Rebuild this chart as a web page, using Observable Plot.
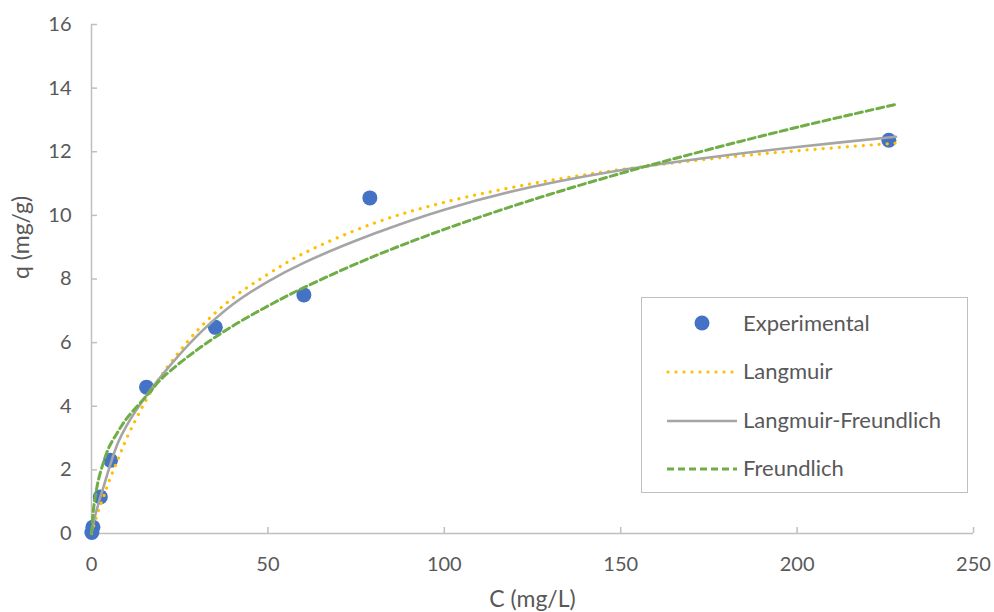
<!DOCTYPE html>
<html>
<head>
<meta charset="utf-8">
<script src="https://cdn.jsdelivr.net/npm/d3@7"></script>
<script src="https://cdn.jsdelivr.net/npm/@observablehq/plot@0.6"></script>
<style>
  html, body { margin: 0; padding: 0; background: #fff; }
  #wrap { position: relative; width: 994px; height: 612px; font-family: Lato, "Open Sans", sans-serif; }
  #legend { position: absolute; left: 641px; top: 297px; width: 325px; height: 194px; border: 1.5px solid #bfbfbf; background: #fff; }
  .item { position: absolute; left: 0; height: 30px; width: 320px; }
  .item svg { position: absolute; left: 20px; top: 0; }
  .item span { position: absolute; left: 101px; top: 0px; font-size: 22px; color: #595959; white-space: nowrap; }
</style>
</head>
<body>
<div id="wrap"></div>
<script>
// Experimental data
const expC = [0.1, 0.4, 2.5, 5.4, 15.6, 35.1, 60.2, 78.9, 226];
const expQ = [0.03, 0.2, 1.15, 2.3, 4.6, 6.48, 7.5, 10.55, 12.36];

// Model curves
const curveC = [0, 0.5, 1, 2, 3.5, 5, 7.5, 10, 15, 20, 30, 40, 50, 60, 80, 100, 125, 150, 175, 200, 228];
const langmuir = [0, 0.19, 0.38, 0.73, 1.18, 1.65, 2.33, 3.0, 4.1, 5.0, 6.38, 7.4, 8.15, 8.8, 9.75, 10.41, 11.0, 11.44, 11.77, 12.03, 12.27];
const langmuirFreundlich = [0, 0.3, 0.55, 0.95, 1.5, 2.05, 2.85, 3.4, 4.25, 4.98, 6.22, 7.2, 7.92, 8.5, 9.42, 10.18, 10.9, 11.42, 11.82, 12.15, 12.47];
const freundlich = [0, 0.7, 1.1, 1.7, 2.27, 2.72, 3.2, 3.62, 4.25, 4.88, 5.78, 6.52, 7.15, 7.72, 8.71, 9.56, 10.49, 11.32, 12.07, 12.77, 13.49];

const xTicks = [0, 50, 100, 150, 200, 250];
const yTicks = [0, 2, 4, 6, 8, 10, 12, 14, 16];
const seriesNames = ["Experimental", "Langmuir", "Langmuir-Freundlich", "Freundlich"];
const xTitle = "C (mg/L)";
const yTitle = "q (mg/g)";

const expData = expC.map((c, i) => ({c, q: expQ[i]}));
const mk = arr => curveC.map((c, i) => ({c, q: arr[i]}));

const textColor = "#595959";
const axisColor = "#bfbfbf";

const chart = Plot.plot({
  width: 994,
  height: 612,
  marginLeft: 91,
  marginRight: 21,
  marginTop: 24,
  marginBottom: 79,
  style: {fontFamily: "Lato, 'Open Sans', sans-serif", fontSize: "20px", color: textColor, background: "#fff"},
  x: {domain: [0, 250]},
  y: {domain: [0, 16]},
  marks: [
    Plot.ruleX([0], {stroke: axisColor, strokeWidth: 1.5}),
    Plot.ruleY([0], {stroke: axisColor, strokeWidth: 1.5}),
    Plot.axisX({ticks: xTicks, tickSize: -6, stroke: axisColor, strokeWidth: 1.5, text: null, label: null}),
    Plot.axisY({ticks: yTicks, tickSize: -6, stroke: axisColor, strokeWidth: 1.5, text: null, label: null}),
    Plot.axisX({ticks: xTicks, tickSize: 0, tickPadding: 23, fill: textColor, fontSize: 20, label: null}),
    Plot.axisY({ticks: yTicks, tickSize: 0, tickPadding: 20, fill: textColor, fontSize: 20, label: null}),
    Plot.text([xTitle], {frameAnchor: "bottom", dy: 73, fill: textColor, fontSize: 23}),
    Plot.text([yTitle], {frameAnchor: "left", dx: -70, rotate: -90, fill: textColor, fontSize: 23}),
    Plot.dot(expData, {x: "c", y: "q", r: 7.5, fill: "#4472C4", stroke: "none"}),
    Plot.line(mk(langmuir), {x: "c", y: "q", stroke: "#FFC000", strokeWidth: 3.2, strokeDasharray: "0.1 7.9", strokeLinecap: "round", curve: "catmull-rom"}),
    Plot.line(mk(langmuirFreundlich), {x: "c", y: "q", stroke: "#A5A5A5", strokeWidth: 2.6, curve: "catmull-rom"}),
    Plot.line(mk(freundlich), {x: "c", y: "q", stroke: "#70AD47", strokeWidth: 3, strokeDasharray: "7 4", curve: "catmull-rom"})
  ]
});

const wrap = document.getElementById("wrap");
wrap.appendChild(chart);

// Legend
const legend = document.createElement("div");
legend.id = "legend";
const swatches = [
  `<svg width="80" height="30"><circle cx="40" cy="14" r="7.5" fill="#4472C4"/></svg>`,
  `<svg width="80" height="30"><line x1="6" y1="15" x2="74" y2="15" stroke="#FFC000" stroke-width="3.2" stroke-dasharray="0.1 7.9" stroke-linecap="round"/></svg>`,
  `<svg width="80" height="30"><line x1="5" y1="15" x2="75" y2="15" stroke="#A5A5A5" stroke-width="2.6"/></svg>`,
  `<svg width="80" height="30"><line x1="5" y1="15" x2="75" y2="15" stroke="#70AD47" stroke-width="3" stroke-dasharray="7 4"/></svg>`
];
const tops = [11, 59, 108, 156];
seriesNames.forEach((name, i) => {
  const item = document.createElement("div");
  item.className = "item";
  item.style.top = tops[i] + "px";
  item.innerHTML = swatches[i] + `<span>${name}</span>`;
  legend.appendChild(item);
});
wrap.appendChild(legend);
</script>
</body>
</html>
